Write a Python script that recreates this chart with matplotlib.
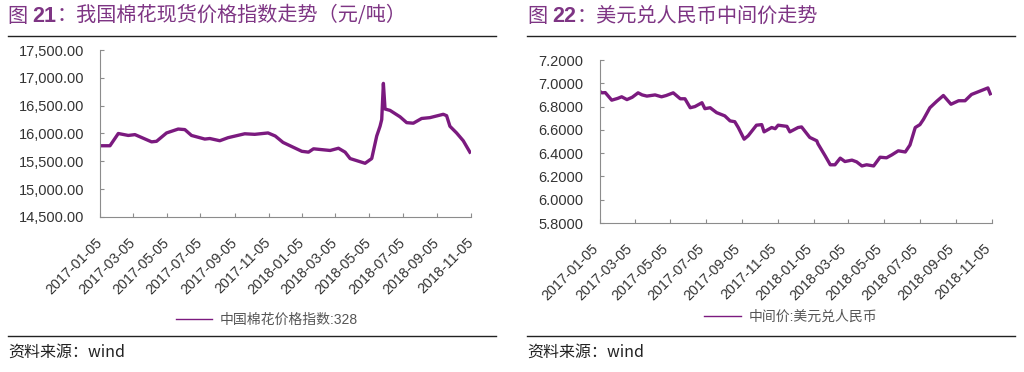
import matplotlib
matplotlib.use("Agg")
import matplotlib.pyplot as plt
import matplotlib.transforms as mtransforms
from matplotlib.lines import Line2D
from matplotlib.ticker import FuncFormatter
import pandas as pd

plt.rcParams['font.family'] = ['Liberation Sans', 'Noto Sans CJK SC', 'DejaVu Sans']

# ---------------- data ----------------
cotton_dates = ['2017-01-05', '2017-01-23', '2017-02-07', '2017-02-25', '2017-03-09',
                '2017-04-08', '2017-04-17', '2017-05-05', '2017-05-26', '2017-06-07',
                '2017-06-19', '2017-07-13', '2017-07-22', '2017-08-09', '2017-08-24',
                '2017-09-23', '2017-10-11', '2017-11-04', '2017-11-17', '2017-12-01',
                '2017-12-19', '2018-01-04', '2018-01-16', '2018-01-25', '2018-02-24',
                '2018-03-11', '2018-03-23', '2018-04-01', '2018-04-28', '2018-05-10',
                '2018-05-19', '2018-05-25', '2018-05-28', '2018-05-31', '2018-06-03',
                '2018-06-12', '2018-06-30', '2018-07-12', '2018-07-24', '2018-08-08',
                '2018-08-23', '2018-09-16', '2018-09-22', '2018-09-28', '2018-10-10',
                '2018-10-22', '2018-11-03']
cotton_values = [15780, 15780, 16000, 15965, 15980,
                 15850, 15860, 16010, 16080, 16070,
                 15965, 15900, 15910, 15870, 15925,
                 15995, 15985, 16010, 15955, 15840,
                 15755, 15680, 15665, 15725, 15695,
                 15735, 15665, 15550, 15465, 15550,
                 15955, 16130, 16250, 16900, 16440,
                 16415, 16300, 16195, 16185, 16270,
                 16285, 16345, 16320, 16130, 16010,
                 15870, 15665]

fx_dates = ['2017-01-05', '2017-01-08', '2017-01-14', '2017-01-25', '2017-02-04',
            '2017-02-11', '2017-02-20', '2017-03-01', '2017-03-11', '2017-03-18',
            '2017-03-26', '2017-04-09', '2017-04-20', '2017-04-28', '2017-05-10',
            '2017-05-22', '2017-05-30', '2017-06-08', '2017-06-16', '2017-06-28',
            '2017-07-03', '2017-07-12', '2017-07-23', '2017-08-06', '2017-08-15',
            '2017-08-23', '2017-08-29', '2017-09-08', '2017-09-15', '2017-09-29',
            '2017-10-08', '2017-10-12', '2017-10-25', '2017-10-31', '2017-11-05',
            '2017-11-20', '2017-11-25', '2017-12-09', '2017-12-15', '2017-12-29',
            '2018-01-10', '2018-01-12', '2018-01-24', '2018-02-02', '2018-02-10',
            '2018-02-19', '2018-02-27', '2018-03-11', '2018-03-19', '2018-03-28',
            '2018-04-05', '2018-04-17', '2018-04-28', '2018-05-09', '2018-05-18',
            '2018-05-29', '2018-06-10', '2018-06-18', '2018-06-27', '2018-07-05',
            '2018-07-11', '2018-07-22', '2018-08-03', '2018-08-14', '2018-08-27',
            '2018-09-09', '2018-09-20', '2018-10-01', '2018-10-19', '2018-10-29',
            '2018-11-02']
fx_values = [6.930, 6.918, 6.920, 6.855, 6.870,
             6.884, 6.860, 6.880, 6.918, 6.900,
             6.890, 6.900, 6.884, 6.895, 6.918,
             6.867, 6.867, 6.790, 6.800, 6.833,
             6.782, 6.790, 6.748, 6.720, 6.677,
             6.670, 6.620, 6.520, 6.550, 6.640,
             6.645, 6.583, 6.620, 6.610, 6.640,
             6.630, 6.583, 6.620, 6.625, 6.535,
             6.506, 6.480, 6.379, 6.300, 6.300,
             6.357, 6.328, 6.340, 6.325, 6.290,
             6.300, 6.290, 6.365, 6.360, 6.385,
             6.420, 6.410, 6.470, 6.620, 6.645,
             6.690, 6.790, 6.847, 6.895, 6.820,
             6.850, 6.850, 6.904, 6.940, 6.960,
             6.910]

tick_labels = ['2017-01-05', '2017-03-05', '2017-05-05', '2017-07-05', '2017-09-05',
               '2017-11-05', '2018-01-05', '2018-03-05', '2018-05-05', '2018-07-05',
               '2018-09-05', '2018-11-05']

cotton_yticks = [14500, 15000, 15500, 16000, 16500, 17000, 17500]
fx_yticks = [5.8, 6.0, 6.2, 6.4, 6.6, 6.8, 7.0, 7.2]

title_left_num = '21'
title_left_text = '：我国棉花现货价格指数走势（元/吨）'
title_right_num = '22'
title_right_text = '：美元兑人民币中间价走势'
legend_left = '中国棉花价格指数:328'
legend_right = '中间价:美元兑人民币'
source_text = '资料来源：wind'

# ---------------- styles ----------------
LINE = '#7B1A7F'
TITLE = '#7E3584'
SPINE = '#8C8C8C'
TXT = '#333333'
W, H = 1024, 372

fig = plt.figure(figsize=(W / 100, H / 100), dpi=100)


def fx(px):
    return px / W


def fy(py):
    return 1 - py / H


def setup_axes(ax, yticks, fmt, ypad, dx, dy):
    ax.set_xlim(pd.Timestamp(tick_labels[0]), pd.Timestamp(tick_labels[-1]))
    ax.set_ylim(yticks[0], yticks[-1])
    ax.set_yticks(yticks)
    ax.yaxis.set_major_formatter(FuncFormatter(fmt))
    ticks = pd.to_datetime(tick_labels)
    ax.set_xticks(ticks)
    ax.set_xticklabels(tick_labels, rotation=45, ha='right', rotation_mode='anchor')
    for s in ['top', 'right']:
        ax.spines[s].set_visible(False)
    for s in ['left', 'bottom']:
        ax.spines[s].set_color(SPINE)
        ax.spines[s].set_linewidth(0.8)
    ax.tick_params(axis='both', direction='in', length=3, width=0.8, color=SPINE,
                   labelcolor=TXT)
    ax.tick_params(axis='y', pad=ypad, labelsize=10.5)
    ax.tick_params(axis='x', pad=6, labelsize=10.3)
    off = mtransforms.ScaledTranslation(dx / 100, -dy / 100, fig.dpi_scale_trans)
    for lab in ax.get_xticklabels():
        lab.set_transform(lab.get_transform() + off)


# left chart
ax1 = fig.add_axes([fx(100), fy(217), fx(471) - fx(100), fy(50) - fy(217)])
ax1.plot(pd.to_datetime(cotton_dates), cotton_values, color=LINE, lw=2.4,
         solid_joinstyle='round')
setup_axes(ax1, cotton_yticks, lambda v, p: f'{v:,.2f}', 11, -5, 10)

# right chart
ax2 = fig.add_axes([fx(600), fy(223), fx(992) - fx(600), fy(60) - fy(223)])
ax2.plot(pd.to_datetime(fx_dates), fx_values, color=LINE, lw=2.4,
         solid_joinstyle='round')
setup_axes(ax2, fx_yticks, lambda v, p: f'{v:.4f}', 12, -9, 10)

# legends
h = [Line2D([], [], color=LINE, lw=1.0)]
fig.legend(h, [legend_left], loc='center', bbox_to_anchor=(fx(267), fy(320)),
           frameon=False, fontsize=10, handlelength=2.6, handletextpad=0.6,
           labelcolor='#555555')
fig.legend(h, [legend_right], loc='center', bbox_to_anchor=(fx(791), fy(317)),
           frameon=False, fontsize=10, handlelength=2.6, handletextpad=0.6,
           labelcolor='#555555')

# titles
fig.canvas.draw()
renderer = fig.canvas.get_renderer()
for x0, num, rest in [(8, title_left_num, title_left_text), (528, title_right_num, title_right_text)]:
    t1 = fig.text(fx(x0), fy(16), '图 ', fontsize=14.5, color=TITLE, va='center',
                  family=['Noto Sans CJK SC'])
    bb = t1.get_window_extent(renderer)
    t2 = fig.text(bb.x1 / W, fy(16), num, fontsize=15.5, color=TITLE, va='center',
                  fontweight='bold', family=['Liberation Sans'])
    bb2 = t2.get_window_extent(renderer)
    fig.text(bb2.x1 / W, fy(16), rest, fontsize=14.5, color=TITLE, va='center',
             family=['Noto Sans CJK SC'])

# rules
for xa, xb in [(8, 496), (527, 1015)]:
    fig.add_artist(Line2D([fx(xa), fx(xb)], [fy(36), fy(36)], color='#222222', lw=1.0))
    fig.add_artist(Line2D([fx(xa), fx(xb)], [fy(336), fy(336)], color='#222222', lw=1.0))

# sources
for x0 in [8, 527]:
    fig.text(fx(x0), fy(352), source_text, fontsize=11.5, color='#222222', va='center',
             family=['Noto Sans CJK SC', 'Liberation Sans'])

fig.savefig('out.png', dpi=100, facecolor='white')
